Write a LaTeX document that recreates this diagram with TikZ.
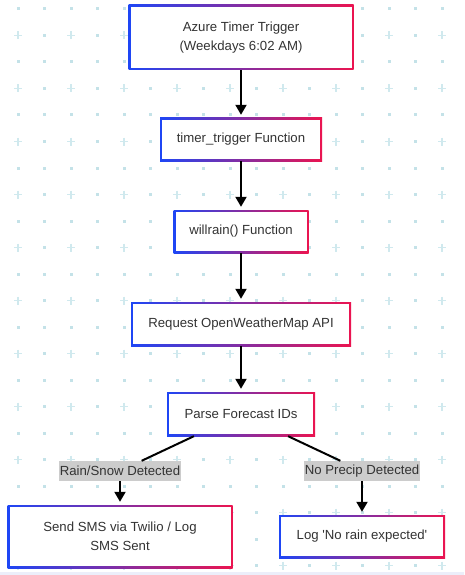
\documentclass[tikz,border=0pt]{standalone}
\usepackage{fontspec}
\setmainfont{Liberation Sans}
\usetikzlibrary{arrows.meta}
\definecolor{gridcol}{RGB}{208,233,238}
\definecolor{dotcol}{RGB}{196,226,232}
\definecolor{edgeblue}{RGB}{30,70,245}
\definecolor{edgered}{RGB}{235,20,80}
\definecolor{txtcol}{RGB}{51,51,51}
\definecolor{lblgray}{RGB}{204,204,204}
\definecolor{bandcol}{RGB}{236,238,250}

\begin{document}
\begin{tikzpicture}[x=1pt,y=-1pt,
    font=\fontsize{13.2}{19.5}\selectfont,
    flowbox/.style={rectangle, align=center, text=txtcol, inner sep=0pt, minimum height=43pt,
      path picture={
        \shade[left color=edgeblue, right color=edgered]
          (path picture bounding box.south west) rectangle (path picture bounding box.north east);
        \fill[white] ([xshift=2pt,yshift=2pt]path picture bounding box.south west)
          rectangle ([xshift=-2pt,yshift=-2pt]path picture bounding box.north east);}},
    condlbl/.style={fill=lblgray, text=txtcol, inner xsep=1pt, inner ysep=0pt, minimum height=20pt},
    flowline/.style={line width=2pt, black},
    flowarrow/.style={flowline, -{Triangle[width=11pt,length=10pt]}, shorten >=3pt}]
    \useasboundingbox (0,0) rectangle (464,575);
    % dotted background
    \fill[bandcol] (0,572) rectangle (464,575);
    \foreach \i in {0,...,16}
      \foreach \j in {0,...,21}
        \fill[dotcol] ({18+26.5*\i-1.5},{9+26.5*\j-1.5}) rectangle ++(3,3);
    \foreach \i in {0,2,...,16}
      \foreach \j in {1,3,...,21}{
        \fill[white] ({18+26.5*\i-2},{9+26.5*\j-2}) rectangle ++(4,4);
        \draw[gridcol, line width=1.4pt] ({18+26.5*\i-4},{9+26.5*\j}) -- ++(8,0)
          ({18+26.5*\i},{9+26.5*\j-4}) -- ++(0,8);}
    % flow
    \node[flowbox, minimum width=225pt, minimum height=65pt] (trigger) at (241,37.5) {Azure Timer Trigger\\(Weekdays 6:02 AM)};
    \node[flowbox, minimum width=162pt] (timerfn) at (241,139.5) {timer\_trigger Function};
    \node[flowbox, minimum width=135pt] (willrain) at (241,231.5) {willrain() Function};
    \node[flowbox, minimum width=220pt, minimum height=44pt] (request) at (241,324) {Request OpenWeatherMap API};
    \node[flowbox, minimum width=148pt, minimum height=44pt] (parse) at (241,414) {Parse Forecast IDs};
    \node[condlbl] (rainlbl) at (120,471) {Rain/Snow Detected};
    \node[condlbl] (norainlbl) at (362,471) {No Precip Detected};
    \node[flowbox, minimum width=225pt, minimum height=63pt] (sms) at (120,536.5) {Send SMS via Twilio / Log\\SMS Sent};
    \node[flowbox, minimum width=166pt] (lognorain) at (362,536.5) {Log \textquotesingle No rain expected\textquotesingle};
    \draw[flowarrow] (trigger) -- (timerfn);
    \draw[flowarrow] (timerfn) -- (willrain);
    \draw[flowarrow] (willrain) -- (request);
    \draw[flowarrow] (request) -- (parse);
    \draw[flowline] (parse) -- (rainlbl);
    \draw[flowline] (parse) -- (norainlbl);
    \draw[flowarrow] (rainlbl) -- (sms);
    \draw[flowarrow] (norainlbl) -- (lognorain);
\end{tikzpicture}
\end{document}
